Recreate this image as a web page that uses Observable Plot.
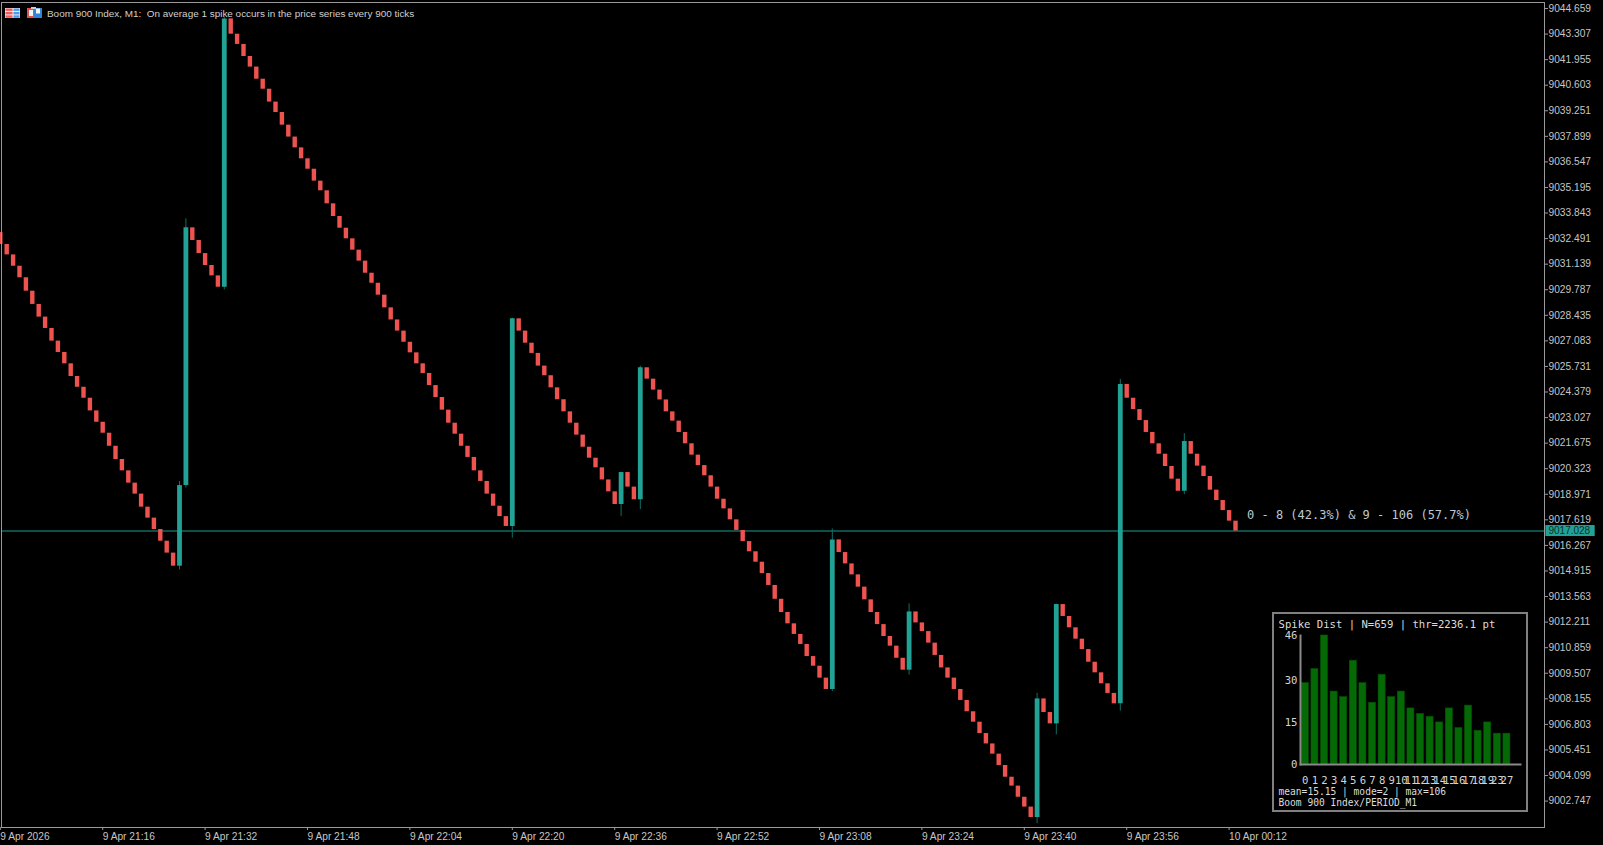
<!DOCTYPE html>
<html>
<head>
<meta charset="utf-8">
<script src="https://cdn.jsdelivr.net/npm/d3@7"></script>
<script src="https://cdn.jsdelivr.net/npm/@observablehq/plot@0.6"></script>
<style>
html,body{margin:0;padding:0;background:#000;width:1603px;height:845px;overflow:hidden}
#wrap{position:relative;width:1603px;height:845px;background:#000}
#wrap svg{display:block;max-width:none}
#inset{position:absolute;left:1272px;top:612px;width:256px;height:200px}
#icons{position:absolute;left:0;top:0}
</style>
</head>
<body>
<div id="wrap"><div id="main"></div><svg id="icons" width="50" height="24">
<rect x="5" y="8" width="15" height="10" fill="#e8e8f0"/><rect x="5.5" y="8.5" width="7" height="2.4" fill="#ee5b5b"/><rect x="5.5" y="12" width="7" height="2.4" fill="#ee5b5b"/><rect x="5.5" y="15.4" width="7" height="2.4" fill="#ee5b5b"/><rect x="13.5" y="8.5" width="6" height="2.4" fill="#4a9be8"/><rect x="13.5" y="12" width="6" height="2.4" fill="#4a9be8"/><rect x="13.5" y="15.4" width="6" height="2.4" fill="#4a9be8"/>
<rect x="27" y="8" width="7" height="10" fill="#e05050"/><rect x="34" y="8" width="8" height="10" fill="#2f86d8"/><rect x="29" y="10" width="4" height="6" fill="#f4f4f4"/><rect x="36" y="8.5" width="4" height="5" fill="#f4f4f4"/><rect x="31" y="7" width="5" height="2" fill="#ccc"/>
</svg><div id="inset"></div></div>
<script>
// ---------- price data (M1 closes; each bar opens at the previous close) ----------
const firstOpen = 9032.81;
const closes = [
 9032.18,9031.63,9031.03,9030.42,9029.71,9029.01,9028.34,9027.74,9027.07,9026.47,
 9025.87,9025.20,9024.63,9024.05,9023.38,9022.78,9022.20,9021.51,9020.81,9020.21,
 9019.56,9018.98,9018.29,9017.71,9017.11,9016.49,9015.86,9015.17,9019.43,9033.06,
 9032.39,9031.70,9031.07,9030.52,9029.92,9044.11,9043.30,9042.76,9042.12,9041.56,
 9040.92,9040.39,9039.71,9039.16,9038.49,9037.86,9037.29,9036.71,9036.16,9035.53,
 9035.02,9034.33,9033.66,9033.04,9032.48,9031.88,9031.30,9030.66,9030.13,9029.50,
 9028.83,9028.19,9027.60,9027.01,9026.45,9025.87,9025.36,9024.72,9024.09,9023.42,
 9022.73,9022.15,9021.51,9020.92,9020.21,9019.65,9018.98,9018.34,9017.79,9017.27,
 9028.25,9027.60,9026.96,9026.42,9025.75,9025.24,9024.60,9023.97,9023.33,9022.73,
 9022.10,9021.46,9020.88,9020.37,9019.73,9019.10,9018.43,9020.12,9019.35,9018.68,
 9025.66,9025.06,9024.48,9023.96,9023.33,9022.84,9022.24,9021.64,9021.04,9020.49,
 9019.95,9019.35,9018.71,9018.20,9017.62,9017.06,9016.47,9015.93,9015.38,9014.78,
 9014.15,9013.42,9012.72,9012.12,9011.56,9011.03,9010.39,9009.88,9009.25,9008.65,
 9016.56,9015.89,9015.29,9014.71,9014.06,9013.39,9012.72,9012.08,9011.45,9010.94,
 9010.30,9009.67,9012.75,9012.17,9011.71,9011.10,9010.45,9009.79,9009.25,9008.65,
 9008.07,9007.47,9006.92,9006.32,9005.77,9005.23,9004.63,9004.01,9003.54,9002.95,
 9002.43,9001.88,9008.15,9007.43,9006.83,9013.14,9012.51,9011.91,9011.31,9010.76,
 9010.09,9009.53,9008.95,9008.44,9007.89,9024.78,9024.05,9023.45,9022.87,9022.24,
 9021.64,9021.09,9020.44,9019.77,9019.13,9021.76,9021.09,9020.46,9019.91,9019.19,
 9018.64,9018.11,9017.55,9017.028
];
// wicks of the spike bars
const spikeBars = [28,29,35,80,97,100,130,142,162,165,175,185];
const spikeHigh = [9019.65,9033.54,9044.20,9028.28,9020.14,9025.75,9017.14,9013.18,9008.45,9013.16,9025.04,9022.18];
const spikeLow  = [9014.97,9019.30,9029.78,9016.65,9017.80,9018.16,9008.54,9009.41,9001.55,9006.25,9007.50,9018.95];
const lastPrice = 9017.028;
const yTicks = [9044.659,9043.307,9041.955,9040.603,9039.251,9037.899,9036.547,9035.195,9033.843,9032.491,9031.139,9029.787,9028.435,9027.083,9025.731,9024.379,9023.027,9021.675,9020.323,9018.971,9017.619,9016.267,9014.915,9013.563,9012.211,9010.859,9009.507,9008.155,9006.803,9005.451,9004.099,9002.747];
const xTickMinutes = [0,16,32,48,64,80,96,112,128,144,160,176,192];
const xTickLabels = ["9 Apr 2026","9 Apr 21:16","9 Apr 21:32","9 Apr 21:48","9 Apr 22:04","9 Apr 22:20","9 Apr 22:36","9 Apr 22:52","9 Apr 23:08","9 Apr 23:24","9 Apr 23:40","9 Apr 23:56","10 Apr 00:12"];
const headerText = "Boom 900 Index, M1:\u00a0 On average 1 spike occurs in the price series every 900 ticks";
const splitText = "0 - 8 (42.3%) & 9 - 106 (57.7%)";

// ---------- histogram data ----------
const distBins = ["0","1","2","3","4","5","6","7","8","9","10","11","12","13","14","15","16","17","18","19","23","27"];
const distCounts = [29,34,46,26,24,37,29,22,32,24,26,20,18,17,15,20,13,21,12,15,11,11];
const distTicks = [0,15,30,46];
const distTitle = "Spike Dist | N=659 | thr=2236.1 pt";
const distStats = "mean=15.15 | mode=2 | max=106";
const distFooter = "Boom 900 Index/PERIOD_M1";

const UP="#22a294", DOWN="#ef5350", WICK="#0d6f64", LINE="#126a60", TXT="#c6c6c6", FRAME="#9a9a9a";
const time = m => new Date(Date.UTC(2026,3,9,21,0,Math.round(m*60)));
const candles = closes.map((c,i)=>({t:time(i),open:i?closes[i-1]:firstOpen,close:c}));
const wicks = spikeBars.map((b,i)=>({t:time(b),high:spikeHigh[i],low:spikeLow[i]}));
const xTicks = xTickMinutes.map(time);
const xLabel = new Map(xTicks.map((d,i)=>[+d,xTickLabels[i]]));

const chart = Plot.plot({
  width:1603,height:845,marginLeft:1,marginRight:59,marginTop:2,marginBottom:18,
  style:{background:"#000",color:TXT,fontFamily:"'Liberation Sans',sans-serif",fontSize:"10.2px"},
  x:{type:"utc",domain:[time(0),time(240)],range:[-0.2,1535.8]},
  y:{domain:[9001.351,9044.976],nice:false},
  marks:[
    Plot.ruleY([lastPrice],{stroke:LINE,strokeWidth:1.4}),
    Plot.ruleX(wicks,{x:"t",y1:"low",y2:"high",stroke:WICK,strokeWidth:1}),
    Plot.ruleX(candles.filter(d=>d.close<d.open),{x:"t",y1:"open",y2:"close",strokeWidth:4.4,stroke:DOWN}),
    Plot.ruleX(candles.filter(d=>d.close>=d.open),{x:"t",y1:"open",y2:"close",strokeWidth:4.8,stroke:UP}),
    Plot.frame({stroke:FRAME}),
    Plot.axisY(yTicks,{anchor:"right",tickSize:3,tickPadding:1,tickFormat:d3.format(".3f"),stroke:FRAME,label:null}),
    Plot.axisX(xTicks,{anchor:"bottom",tickSize:3,tickPadding:2,tickFormat:d=>xLabel.get(+d),textAnchor:"start",stroke:FRAME,label:null}),
    Plot.rect([lastPrice],{x1:()=>time(241.5),x2:()=>time(249.2),y1:d=>d-0.29,y2:d=>d+0.29,fill:UP}),
    Plot.text([lastPrice],{x:()=>time(241.9),y:d=>d,text:d=>d3.format(".3f")(d),textAnchor:"start",fill:"#07312c",fontSize:10}),
    Plot.text([headerText],{frameAnchor:"top-left",lineAnchor:"middle",dx:45.5,dy:11.3,fill:"#d0d0d0",fontSize:9.93}),
    Plot.text([splitText],{x:()=>time(194.8),y:()=>9017.886,textAnchor:"start",fill:"#bcc8d4",fontFamily:"'DejaVu Sans Mono',monospace",fontSize:12})
  ]
});
document.getElementById("main").append(chart);

const MONO="'DejaVu Sans Mono',monospace";
const inset = Plot.plot({
  width:256,height:200,marginLeft:28,marginRight:8,marginTop:23,marginBottom:48,
  style:{background:"#000",color:"#d4d4d4",fontFamily:MONO,fontSize:"10.6px"},
  x:{type:"band",domain:distBins,range:[28,239.2],round:false,paddingInner:0.27,paddingOuter:0.135,label:null},
  y:{domain:[0,46],nice:false,label:null},
  marks:[
    Plot.barY(distCounts,{x:(d,i)=>distBins[i],y:d=>d,fill:"#056a05",stroke:"#005400",strokeWidth:0.6}),
    Plot.frame({anchor:"left",stroke:"#8a8a8a",strokeWidth:2}),
    Plot.frame({anchor:"bottom",stroke:"#8a8a8a",strokeWidth:2}),
    Plot.axisY(distTicks,{anchor:"left",tickSize:0,tickPadding:3,label:null}),
    Plot.axisX(distBins,{anchor:"bottom",tickSize:0,tickPadding:12,label:null}),
    Plot.text([distTitle],{frameAnchor:"top-left",lineAnchor:"middle",dx:-22,dy:-11,fontSize:10.6,fill:"#dcdcdc"}),
    Plot.text([distStats],{frameAnchor:"bottom-left",lineAnchor:"middle",dx:-22,dy:27,fontSize:9.6,fill:"#dcdcdc"}),
    Plot.text([distFooter],{frameAnchor:"bottom-left",lineAnchor:"middle",dx:-22,dy:38,fontSize:9.6,fill:"#dcdcdc"}),
    () => { // outer border of the panel
      const ns="http://www.w3.org/2000/svg", r=document.createElementNS(ns,"rect");
      r.setAttribute("x",1);r.setAttribute("y",1);r.setAttribute("width",254);r.setAttribute("height",198);
      r.setAttribute("fill","none");r.setAttribute("stroke","#808080");r.setAttribute("stroke-width",2);
      return r;
    }
  ]
});
document.getElementById("inset").append(inset);
</script>
</body>
</html>
